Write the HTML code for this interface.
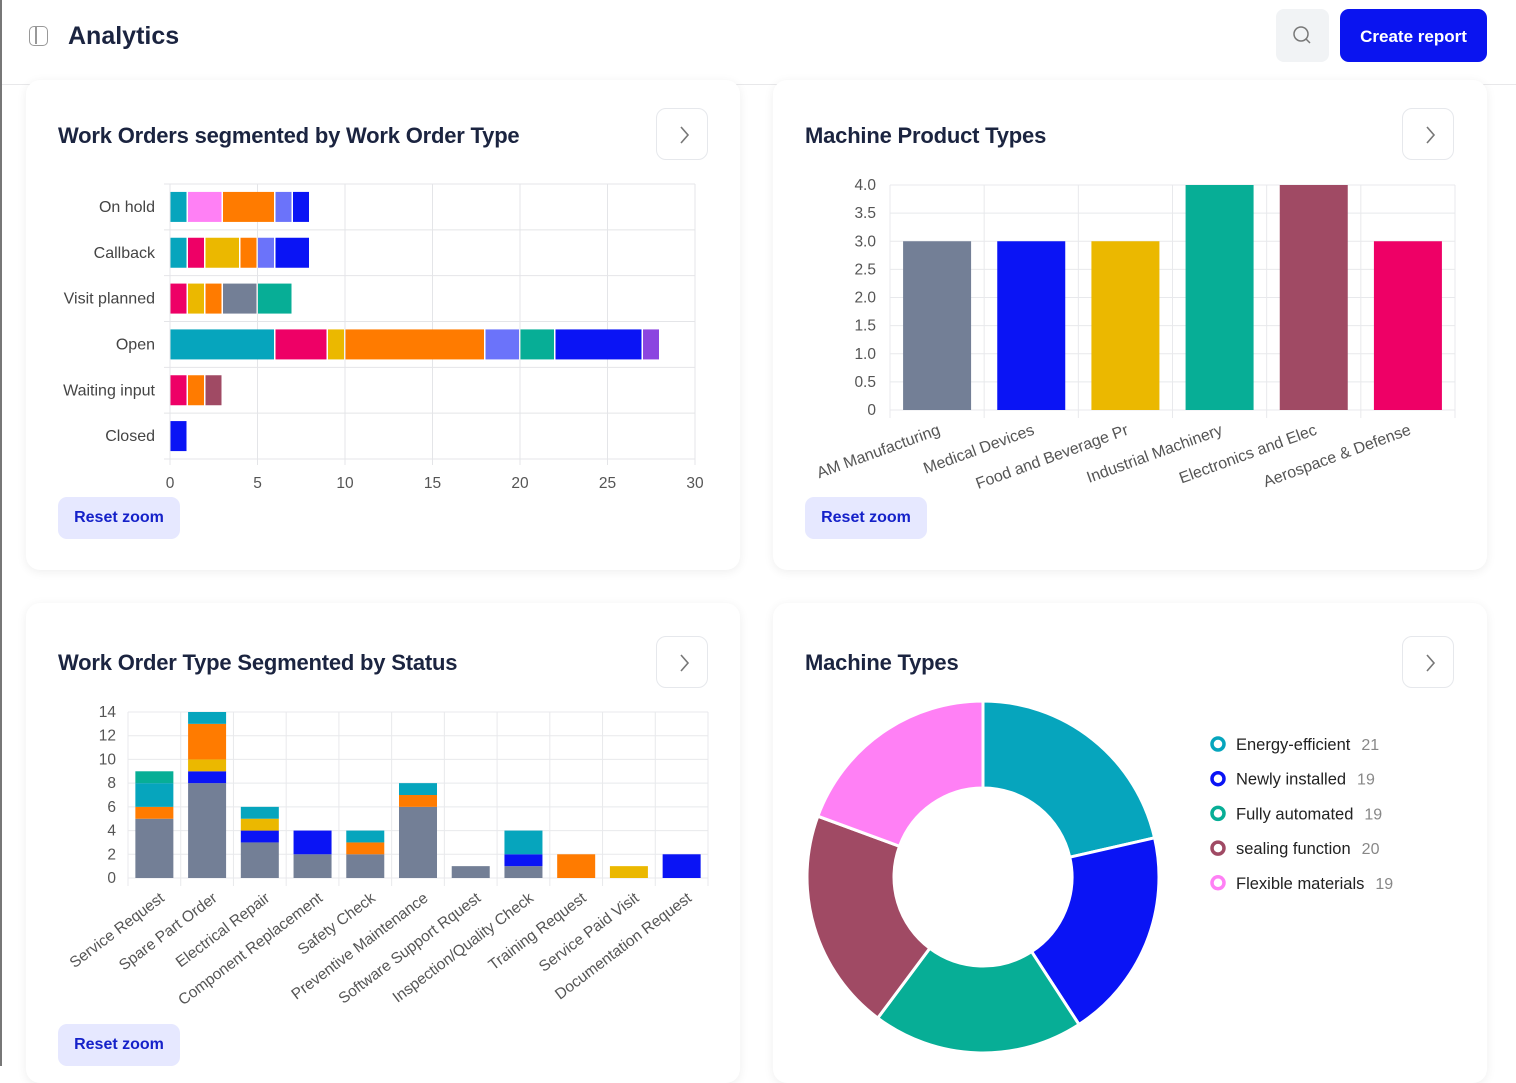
<!DOCTYPE html>
<html><head><meta charset="utf-8"><style>
body{margin:0;width:1516px;height:1066px;overflow:hidden;background:#fff;font-family:"Liberation Sans",sans-serif;position:relative}
.abs{position:absolute}
.card{position:absolute;background:#fff;border-radius:14px;box-shadow:0 2px 10px rgba(0,0,0,0.07)}
.title{position:absolute;font-size:22px;font-weight:bold;color:#1b2440;letter-spacing:-0.2px}
.chev{position:absolute;width:52px;height:52px;border:1px solid #e6e8ec;border-radius:10px;box-sizing:border-box}
.reset{position:absolute;width:122px;height:42px;background:#e6e8ff;color:#1521c9;border-radius:9px;font-size:16px;font-weight:bold;text-align:center;line-height:42px}
svg text{font-family:"Liberation Sans",sans-serif}
</style></head><body>
<div class="abs" style="left:0;top:0;width:2px;height:1066px;background:#777"></div>
<div class="abs" style="left:29px;top:26px;width:19px;height:20px;border:1.5px solid #999;border-radius:5px;box-sizing:border-box"><div style="position:absolute;left:5px;top:0;width:1.5px;height:17px;background:#999"></div></div>
<div class="abs" style="left:68px;top:22px;font-size:25px;font-weight:bold;color:#1b2440">Analytics</div>
<div class="abs" style="left:1276px;top:9px;width:53px;height:53px;background:#f1f3f5;border-radius:8px">
<svg width="53" height="53"><circle cx="25" cy="25" r="7" fill="none" stroke="#777" stroke-width="1.5"/><line x1="30" y1="30" x2="34" y2="34" stroke="#777" stroke-width="1.5"/></svg></div>
<div class="abs" style="left:1340px;top:9px;width:147px;height:53px;background:#0a14f0;border-radius:9px;color:#fff;font-weight:bold;font-size:17px;text-align:center;line-height:55px">Create report</div>
<div class="abs" style="left:2px;top:84px;width:1514px;height:1px;background:#e8e8ea"></div>

<div class="card" style="left:26px;top:80px;width:714px;height:490px"></div>
<div class="card" style="left:773px;top:80px;width:714px;height:490px"></div>
<div class="card" style="left:26px;top:603px;width:714px;height:480px"></div>
<div class="card" style="left:773px;top:603px;width:714px;height:480px"></div>

<div class="title" style="left:58px;top:123px">Work Orders segmented by Work Order Type</div>
<div class="title" style="left:805px;top:123px">Machine Product Types</div>
<div class="title" style="left:58px;top:650px">Work Order Type Segmented by Status</div>
<div class="title" style="left:805px;top:650px">Machine Types</div>

<div class="chev" style="left:656px;top:108px"><svg width="50" height="50"><polyline points="24,18 31,26 24,34" fill="none" stroke="#777" stroke-width="1.6"/></svg></div>
<div class="chev" style="left:1402px;top:108px"><svg width="50" height="50"><polyline points="24,18 31,26 24,34" fill="none" stroke="#777" stroke-width="1.6"/></svg></div>
<div class="chev" style="left:656px;top:636px"><svg width="50" height="50"><polyline points="24,18 31,26 24,34" fill="none" stroke="#777" stroke-width="1.6"/></svg></div>
<div class="chev" style="left:1402px;top:636px"><svg width="50" height="50"><polyline points="24,18 31,26 24,34" fill="none" stroke="#777" stroke-width="1.6"/></svg></div>

<div class="reset" style="left:58px;top:497px">Reset zoom</div>
<div class="reset" style="left:805px;top:497px">Reset zoom</div>
<div class="reset" style="left:58px;top:1024px">Reset zoom</div>

<svg id="s" class="abs" style="left:0;top:0" width="1516" height="1066"></svg>

<script>
const C={cyan:'#06a5bd',pink:'#ff80f5',orange:'#ff7b00',lav:'#6b73fa',blue:'#0a14f5',mag:'#ee0066',yel:'#ebb800',gray:'#737f96',green:'#07ae96',purple:'#8b45e0',maroon:'#a04a64'};
// chart1
const c1Rows=['On hold','Callback','Visit planned','Open','Waiting input','Closed'];
const c1Colors=[['cyan','pink','orange','lav','blue'],['cyan','mag','yel','orange','lav','blue'],['mag','yel','orange','gray','green'],['cyan','mag','yel','orange','lav','green','blue','purple'],['mag','orange','maroon'],['blue']];
const c1Values=[[1,2,3,1,1],[1,1,2,1,1,2],[1,1,1,2,2],[6,3,1,8,2,2,5,1],[1,1,1],[1]];
const c1Ticks=[0,5,10,15,20,25,30];
// chart2
const c2Cats=['AM Manufacturing','Medical Devices','Food and Beverage Pr','Industrial Machinery','Electronics and Elec','Aerospace & Defense'];
const c2Values=[3,3,3,4,4,3];
const c2Colors=[C.gray,C.blue,C.yel,C.green,C.maroon,C.mag];
const c2Ticks=['0','0.5','1.0','1.5','2.0','2.5','3.0','3.5','4.0'];
// chart3
const c3Cats=['Service Request','Spare Part Order','Electrical Repair','Component Replacement','Safety Check','Preventive Maintenance','Software Support Rquest','Inspection/Quality Check','Training Request','Service Paid Visit','Documentation Request'];
const c3Gray=[5,8,3,2,2,6,1,1,0,0,0];
const c3Blue=[0,1,1,2,0,0,0,1,0,0,2];
const c3Yellow=[0,1,1,0,0,0,0,0,0,1,0];
const c3Orange=[1,3,0,0,1,1,0,0,2,0,0];
const c3Cyan=[2,1,1,0,1,1,0,2,0,0,0];
const c3Green=[1,0,0,0,0,0,0,0,0,0,0];
const c3Ticks=[0,2,4,6,8,10,12,14];
// chart4
const c4Labels=['Energy-efficient','Newly installed','Fully automated','sealing function','Flexible materials'];
const c4Values=[21,19,19,20,19];
const c4Colors=[C.cyan,C.blue,C.green,C.maroon,C.pink];

const s=document.getElementById('s');
function el(t,a,txt){const e=document.createElementNS('http://www.w3.org/2000/svg',t);for(const k in a)e.setAttribute(k,a[k]);if(txt!==undefined)e.textContent=txt;s.appendChild(e);return e;}

// chart1
{const x0=170,x1=695,top=184,bot=459,n=c1Rows.length,band=(bot-top)/n;
const X=v=>x0+v/30*(x1-x0);
c1Ticks.forEach(t=>{const g=el('line',{x1:X(t),x2:X(t),y1:top,y2:bot+6,stroke:'#e4e5e8'});
const l=el('text',{x:X(t),y:488,'text-anchor':'middle','font-size':15.5,fill:'#555'},t);});
for(let i=0;i<=n;i++)el('line',{x1:x0-6,x2:x1,y1:top+i*band,y2:top+i*band,stroke:'#e4e5e8'});
c1Rows.forEach((r,i)=>{const cy=top+band*(i+0.5);
const l=el('text',{x:155,y:cy+5,'text-anchor':'end','font-size':16,fill:'#444'},r);
let acc=0;c1Values[i].forEach((v,j)=>{const b=el('rect',{x:X(acc)+0.5,y:cy-15,width:X(acc+v)-X(acc)-1.5,height:30,fill:C[c1Colors[i][j]]});acc+=v;});});}

// chart2
{const x0=890,x1=1455,top=185,bot=410,n=c2Cats.length,band=(x1-x0)/n;
const Y=v=>bot-v/4*(bot-top);
c2Ticks.forEach(t=>{const v=parseFloat(t);el('line',{x1:x0,x2:x1,y1:Y(v),y2:Y(v),stroke:'#e8e9ec'});
const l=el('text',{x:876,y:Y(v)+5,'text-anchor':'end','font-size':15.5,fill:'#555'},t);});
for(let i=0;i<=n;i++)el('line',{x1:x0+i*band,x2:x0+i*band,y1:top,y2:bot+8,stroke:'#e8e9ec'});
c2Cats.forEach((c,i)=>{const cx=x0+band*(i+0.5);
const b=el('rect',{x:cx-34,y:Y(c2Values[i]),width:68,height:bot-Y(c2Values[i]),fill:c2Colors[i]});
const l=el('text',{x:cx+4,y:434,'text-anchor':'end','font-size':16,fill:'#555',transform:`rotate(-20 ${cx+4} 434)`},c);});}

// chart3
{const x0=128,x1=708,top=712,bot=878,n=c3Cats.length,band=(x1-x0)/n;
const Y=v=>bot-v/14*(bot-top);
c3Ticks.forEach(t=>{el('line',{x1:x0,x2:x1,y1:Y(t),y2:Y(t),stroke:'#e8e9ec'});
const l=el('text',{x:116,y:Y(t)+5,'text-anchor':'end','font-size':15.5,fill:'#555'},t);});
for(let i=0;i<=n;i++)el('line',{x1:x0+i*band,x2:x0+i*band,y1:top,y2:bot+8,stroke:'#e8e9ec'});
const series=[[c3Gray,C.gray],[c3Blue,C.blue],[c3Yellow,C.yel],[c3Orange,C.orange],[c3Cyan,C.cyan],[c3Green,C.green]];
c3Cats.forEach((c,i)=>{const cx=x0+band*(i+0.5);let acc=0;
series.forEach(([arr,col])=>{const v=arr[i];if(!v)return;const b=el('rect',{x:cx-19,y:Y(acc+v),width:38,height:Y(acc)-Y(acc+v),fill:col});acc+=v;});
const l=el('text',{x:cx+11,y:900,'text-anchor':'end','font-size':15.5,fill:'#555',transform:`rotate(-37 ${cx+11} 900)`},c);});}

// chart4
{const cx=983,cy=877,R=176,r=89,tot=c4Values.reduce((a,b)=>a+b,0);let a=0;
const P=(ang,rad)=>[cx+rad*Math.sin(ang),cy-rad*Math.cos(ang)];
c4Values.forEach((v,i)=>{const a2=a+v/tot*2*Math.PI;const [x1,y1]=P(a,R),[x2,y2]=P(a2,R),[x3,y3]=P(a2,r),[x4,y4]=P(a,r);const lg=(a2-a)>Math.PI?1:0;
const p=el('path',{d:`M${x1},${y1}A${R},${R} 0 ${lg} 1 ${x2},${y2}L${x3},${y3}A${r},${r} 0 ${lg} 0 ${x4},${y4}Z`,fill:c4Colors[i],stroke:'#fff','stroke-width':3});a=a2;
const ly=744+i*34.7;
const m=el('circle',{cx:1218,cy:ly,r:6,fill:'none',stroke:c4Colors[i],'stroke-width':3.5});
const t=el('text',{x:1236,y:ly+6,'font-size':16.5,fill:'#222'},c4Labels[i]);
const w=t.getComputedTextLength();
const vt=el('text',{x:1236+w+11,y:ly+6,'font-size':16,fill:'#888'},c4Values[i]);});}
</script>
</body></html>
